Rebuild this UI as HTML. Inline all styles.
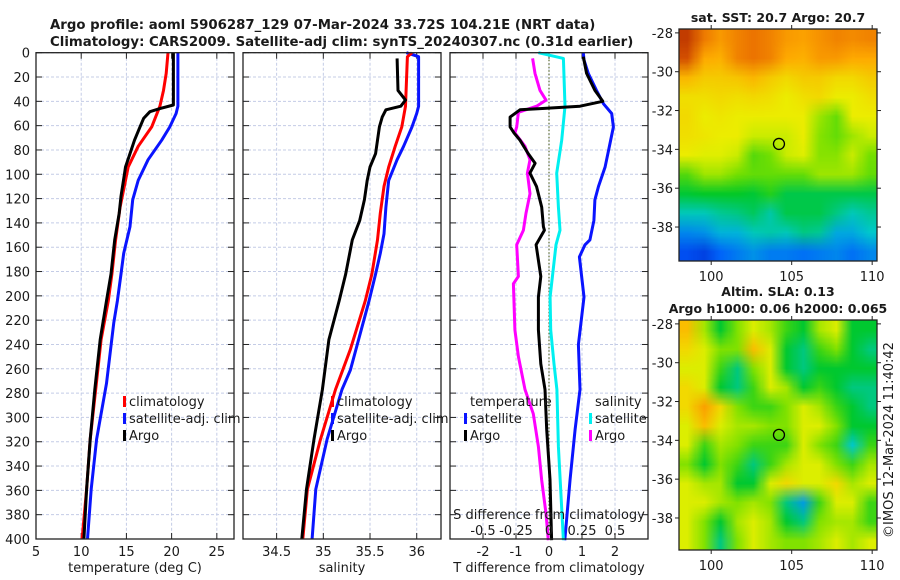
<!DOCTYPE html>
<html><head><meta charset="utf-8">
<style>
html,body{margin:0;padding:0;background:#fff;}
#wrap{position:relative;width:900px;height:580px;overflow:hidden;font-family:"DejaVu Sans","Liberation Sans",sans-serif;}
canvas{position:absolute;}
svg{position:absolute;left:0;top:0;}
</style></head>
<body>
<div id="wrap">
<canvas id="sstc" width="198" height="232" style="left:679px;top:29px"></canvas>
<canvas id="slac" width="198" height="230" style="left:679px;top:320px"></canvas>
<svg id="fig" width="900" height="580" xmlns="http://www.w3.org/2000/svg"></svg>
</div>
<script>
// ---------- data ----------
const tArgoD=[0,43,46,48.5,54,61,72,83,94,99,118,132,154,182,204,236,277,318,359,400];
const tArgoV=[20.2,20.2,18.7,17.6,16.9,16.5,15.9,15.4,14.9,14.8,14.4,14.2,13.7,13.3,12.8,12.1,11.5,11.0,10.6,10.3];
const tClimD=[0,17,31,44,61,77,94,105,127,154,182,204,236,277,318,359,400];
const tClimV=[19.6,19.4,19.1,18.7,17.8,16.3,15.2,14.9,14.3,13.8,13.4,13.0,12.2,11.6,11.0,10.6,10.1];
const tSatD=[0,44,50,61,72,88,105,121,143,165,182,204,222,272,318,359,400];
const tSatV=[20.7,20.7,20.5,19.8,18.9,17.4,16.3,15.7,15.4,14.7,14.4,14.0,13.6,12.8,11.7,11.1,10.7];
const sArgoD=[4.7,31,39,44,47,53,61,72,83,94,105,121,138,154,182,204,236,277,318,359,400];
const sArgoV=[35.79,35.8,35.88,35.83,35.67,35.63,35.6,35.58,35.56,35.5,35.47,35.44,35.39,35.31,35.24,35.17,35.06,34.99,34.9,34.82,34.77];
const sClimD=[0,3.3,44,61,77,94,110,132,154,182,204,244,277,318,359,400];
const sClimV=[35.95,35.9,35.88,35.84,35.77,35.7,35.65,35.61,35.58,35.52,35.45,35.29,35.13,34.97,34.83,34.78];
const sSatD=[0,3.3,44,50,61,77,88,105,127,149,165,182,204,261,277,318,359,400];
const sSatV=[35.89,36.02,36.02,36.0,35.95,35.86,35.79,35.7,35.67,35.65,35.61,35.56,35.49,35.29,35.2,35.04,34.92,34.88];
const dTSatD=[0,6,17,31,42,50,61,77,94,110,121,138,154,158,168,201,240,277,310,351,401];
const dTSatV=[1.04,1.06,1.19,1.44,1.65,1.9,1.95,1.83,1.7,1.5,1.39,1.36,1.24,1.09,0.92,1.06,0.89,0.94,0.79,0.64,0.48];
const dTArgoD=[3.3,17,31,40,44,46,47,53,61,66,72,83,91,99,110,127,143,146,158,184,201,228,256,277,310,351,401];
const dTArgoV=[1.04,1.14,1.39,1.63,0.94,-0.27,-0.88,-1.18,-1.18,-1.06,-0.88,-0.63,-0.42,-0.58,-0.38,-0.22,-0.17,-0.14,-0.39,-0.25,-0.32,-0.32,-0.25,-0.12,-0.07,0.03,0.08];
const dSArgoD=[4.7,17,31,39,44,49,61,66,77,88,99,116,132,146,158,184,190,228,250,277,297,324,351,379,401];
const dSArgoV=[-0.124,-0.106,-0.068,-0.023,-0.094,-0.232,-0.245,-0.258,-0.182,-0.144,-0.164,-0.144,-0.174,-0.194,-0.245,-0.232,-0.27,-0.258,-0.232,-0.182,-0.119,-0.08,-0.056,-0.023,-0.005];
const dSSatD=[0,4.7,44,72,99,127,146,158,201,228,256,277,324,401];
const dSSatV=[-0.08,0.109,0.121,0.096,0.058,0.071,0.083,0.053,0.008,0.013,0.038,0.06,0.071,0.109];
const depthTicks=[0,20,40,60,80,100,120,140,160,180,200,220,240,260,280,300,320,340,360,380,400];
const tTicks=[5,10,15,20,25];
const sTicks=[34.5,35,35.5,36];
const sTickLabels=["34.5","35","35.5","36"];
const dTTicks=[-2,-1,0,1,2];
const dSTicks=[-0.5,-0.25,0,0.25,0.5];
const dSTickLabels=["-0.5","-0.25","0","0.25","0.5"];
const latTicks=[-28,-30,-32,-34,-36,-38];
const lonTicks=[100,105,110];
const argoLon=104.21, argoLat=-33.72;
// SST grid rows north->south (-28..-39), cols 98..110
const sstGrid=[
[23,22.3,21.9,22.2,22.4,22.2,21.9,21.8,22,22.2,22.1,22.2],
[22.8,21.7,21.6,22.2,22.4,22.2,21.7,21.6,21.9,21.9,21.7,21.7],
[21.5,21.2,21.2,21.3,21.5,21.2,21.0,21.2,21.2,21.0,21.0,21.2],
[20.9,20.9,21.0,20.9,21.0,20.9,20.7,20.9,21.0,20.7,20.7,20.9],
[21.0,20.7,20.8,20.7,20.7,20.7,20.7,20.7,20.3,20.0,20.7,20.7],
[20.9,20.8,20.7,20.7,20.5,20.5,20.5,20.7,20.2,20.0,20.3,20.5],
[20.7,20.6,20.6,20.5,19.9,20.1,20.5,20.6,20.2,20.2,20.5,20.1],
[19.9,20.3,20.3,20.1,20.0,20.0,20.0,20.0,20.3,20.3,20.3,20.0],
[19.3,19.4,19.4,19.4,19.3,19.6,19.2,19.2,19.2,19.2,19.2,19.2],
[18.6,18.6,18.8,18.9,19.1,18.7,19.2,19.2,19.2,18.9,18.6,18.8],
[17.9,18.0,18.3,18.3,18.6,18.7,18.6,18.9,18.8,18.2,18.2,18.5],
[17.3,17.1,17.6,17.8,18.0,17.8,17.8,17.7,17.8,17.9,17.7,17.9]];
const slaGrid=[
[0.25,0.12,0.0,0.1,0.15,0.12,0.05,0.0,0.12,0.15,0.0,0.0],
[0.2,0.15,0.1,0.1,0.25,0.15,0.0,-0.05,0.05,0.1,0.0,-0.05],
[0.15,0.15,0.05,-0.05,0.1,0.15,0.0,-0.05,0.0,0.0,0.0,0.0],
[0.2,0.15,0.0,-0.05,0.05,0.15,0.12,0.0,0.05,0.0,-0.05,-0.05],
[0.2,0.3,0.2,0.1,0.05,0.05,0.1,0.15,0.12,0.05,0.0,-0.05],
[0.15,0.25,0.15,0.12,0.12,0.1,0.1,0.15,0.15,0.1,0.0,0.0],
[0.15,0.05,0.12,0.1,0.05,0.05,0.05,0.15,0.1,0.05,-0.1,0.05],
[0.1,0.0,0.1,0.05,-0.05,0.05,0.12,0.15,0.15,0.1,0.05,0.12],
[0.15,0.12,0.12,0.0,0.0,0.15,0.2,0.15,0.15,0.2,0.12,0.15],
[0.15,0.15,0.12,0.1,0.12,0.1,-0.05,-0.15,0.05,0.15,0.15,0.05],
[0.15,0.1,0.0,0.12,0.15,0.12,0.0,-0.05,0.1,0.12,0.12,0.05],
[0.15,0.1,-0.05,0.1,0.15,0.12,0.1,0.1,0.12,0.15,0.12,0.15]];

// ---------- helpers ----------
const NS="http://www.w3.org/2000/svg";
const svg=document.getElementById('fig');
function mk(tag,attrs,parent){const e=document.createElementNS(NS,tag);for(const k in attrs)e.setAttribute(k,attrs[k]);(parent||svg).appendChild(e);return e;}
function txt(x,y,s,size,anchor,weight,parent){const e=mk('text',{x:x,y:y,'font-size':size,'text-anchor':anchor||'middle','font-weight':weight||'normal',fill:'#1a1a1a','font-family':'DejaVu Sans, Liberation Sans, sans-serif'},parent);e.textContent=s;return e;}
const Y0=52.7,Y1=539;
function yD(d){return Y0+(Y1-Y0)*d/400;}
function lin(d0,d1,r0,r1){return v=>r0+(v-d0)*(r1-r0)/(d1-d0);}
const xT=lin(5,26.9,36,234), xS=lin(34.14,36.26,243,441), xDT=lin(-3,3,450,648), xDS=v=>xDT(v*4);

function panel(name,x0,x1,vticks,xs,labels,dataLines,xlabel){
  const g=mk('g',{});
  
  
  depthTicks.forEach(d=>{
    const l=mk('line',{x1:x0,x2:x1,y1:yD(d),y2:yD(d),stroke:'#c4cce6','stroke-width':1,'stroke-dasharray':'3,2'},g);
    
    
    mk('line',{x1:x0,x2:x0+6,y1:yD(d),y2:yD(d),stroke:'#222','stroke-width':1},g);
    mk('line',{x1:x1-6,x2:x1,y1:yD(d),y2:yD(d),stroke:'#222','stroke-width':1},g);
  });
  vticks.forEach((v,i)=>{
    const x=xs(v);
    if(x>x0+1&&x<x1-1){
      const l=mk('line',{x1:x,x2:x,y1:Y0,y2:Y1,stroke:'#c4cce6','stroke-width':1,'stroke-dasharray':'3,2'},g);
      
      
    }
    mk('line',{x1:x,x2:x,y1:Y1,y2:Y1-6,stroke:'#222','stroke-width':1},g);
    mk('line',{x1:x,x2:x,y1:Y0,y2:Y0+6,stroke:'#222','stroke-width':1},g);
    if(labels){const t=txt(x,556,labels[i],13,'middle','normal',g);
      
      }
  });
  dataLines(g);
  const r=mk('rect',{x:x0,y:Y0,width:x1-x0,height:Y1-Y0,fill:'none',stroke:'#222','stroke-width':1.3},g);
  
  
  const xl=txt((x0+x1)/2,572,xlabel,13,'middle','normal',g);
  
  
}
function line(g,ds,vs,xs,color,name){
  const pts=ds.map((d,i)=>xs(vs[i]).toFixed(1)+','+yD(d).toFixed(1)).join(' ');
  const p=mk('polyline',{points:pts,fill:'none',stroke:color,'stroke-width':3,'stroke-linejoin':'round'},g);
  
  
}
function legend(g,x,y,entries){
  entries.forEach((e,i)=>{
    const yy=y+i*17;
    if(e[1]){mk('rect',{x:x,y:yy-5,width:3,height:11,fill:e[1]},g);}
    const t=txt(x+6,yy+5,e[0],13,'start','normal',g);
    
    
  });
}

depthTicks.forEach(d=>{const t=txt(30,yD(d)+5,String(d),13,'end');
  
  });

let t1=txt(50,29,'Argo profile: aoml 5906287_129 07-Mar-2024 33.72S 104.21E (NRT data)',13.3,'start','bold');


let t2=txt(50,46,'Climatology: CARS2009. Satellite-adj clim: synTS_20240307.nc (0.31d earlier)',13.3,'start','bold');



panel('temperature-panel',36,234,tTicks,xT,tTicks.map(String),g=>{
  line(g,tSatD,tSatV,xT,'#0a14ff','temp-satellite-line');
  line(g,tClimD,tClimV,xT,'#ff0000','temp-climatology-line');
  line(g,tArgoD,tArgoV,xT,'#000','temp-argo-line');
  legend(g,123,401,[['climatology','#ff0000'],['satellite-adj. clim','#0a14ff'],['Argo','#000']]);
},'temperature (deg C)');
panel('salinity-panel',243,441,sTicks,xS,sTickLabels,g=>{
  line(g,sSatD,sSatV,xS,'#0a14ff','sal-satellite-line');
  line(g,sClimD,sClimV,xS,'#ff0000','sal-climatology-line');
  line(g,sArgoD,sArgoV,xS,'#000','sal-argo-line');
  legend(g,331,401,[['climatology','#ff0000'],['satellite-adj. clim','#0a14ff'],['Argo','#000']]);
},'salinity');
panel('difference-panel',450,648,dTTicks,xDT,dTTicks.map(String),g=>{
  const z=mk('line',{x1:xDT(0),x2:xDT(0),y1:Y0,y2:Y1,stroke:'#5a6a30','stroke-width':1.2,'stroke-dasharray':'1.5,2'},g);
  
  
  line(g,dTSatD,dTSatV,xDT,'#0a14ff','tdiff-satellite-line');
  line(g,dSSatD,dSSatV,xDS,'#00f0f0','sdiff-satellite-line');
  line(g,dSArgoD,dSArgoV,xDS,'#ff00ff','sdiff-argo-line');
  line(g,dTArgoD,dTArgoV,xDT,'#000','tdiff-argo-line');
  legend(g,464,401,[['temperature',null],['satellite','#0a14ff'],['Argo','#000']]);
  legend(g,589,401,[['salinity',null],['satellite','#00f0f0'],['Argo','#ff00ff']]);
  const st=txt(549,519,'S difference from climatology',13,'middle','normal',g);
  
  
  dSTicks.forEach((v,i)=>{const t=txt(xDS(v),535,dSTickLabels[i],13,'middle','normal',g);
    
    });
},'T difference from climatology');

// ---------- maps ----------
const stops=[[0,[0,0,150]],[0.2,[0,90,255]],[0.33,[0,200,210]],[0.45,[0,200,40]],[0.55,[120,225,0]],[0.62,[235,240,0]],[0.76,[255,170,0]],[0.88,[230,100,0]],[1,[150,10,0]]];
function cmap(t){t=Math.max(0,Math.min(1,t));for(let i=1;i<stops.length;i++){if(t<=stops[i][0]){const a=stops[i-1],b=stops[i];const f=(t-a[0])/(b[0]-a[0]);return a[1].map((c,k)=>Math.round(c+(b[1][k]-c)*f));}}return stops[stops.length-1][1];}
function drawMap(id,grid,vmin,vmax,smooth){
  const c=document.getElementById(id),ctx=c.getContext('2d');
  const rows=grid.length,cols=grid[0].length;
  const s=document.createElement('canvas');s.width=cols;s.height=rows;
  const sc=s.getContext('2d');const im=sc.createImageData(cols,rows);
  grid.forEach((row,r)=>row.forEach((v,k)=>{const col=cmap((v-vmin)/(vmax-vmin));const o=(r*cols+k)*4;im.data[o]=col[0];im.data[o+1]=col[1];im.data[o+2]=col[2];im.data[o+3]=255;}));
  sc.putImageData(im,0,0);
  ctx.imageSmoothingEnabled=smooth;
  ctx.drawImage(s,0,0,c.width,c.height);
}
drawMap('sstc',sstGrid,16,23.5,true);
drawMap('slac',slaGrid,-0.4,0.5,true);

function mapAxes(name,top,bot,latTop,latBot,title1,title2,y1,y2){
  const g=mk('g',{});
  
  
  const xm=lin(98.0,110.3,679,877), ym=lin(latTop,latBot,top,bot);
  mk('rect',{x:679,y:top,width:198,height:bot-top,fill:'none',stroke:'#222','stroke-width':1.3},g);
  latTicks.forEach(l=>{const y=ym(l);mk('line',{x1:675,x2:679,y1:y,y2:y,stroke:'#222'},g);mk('line',{x1:877,x2:881,y1:y,y2:y,stroke:'#222'},g);
    const t=txt(673,y+5,String(l),13,'end','normal',g);
    
    });
  lonTicks.forEach(l=>{const x=xm(l);mk('line',{x1:x,x2:x,y1:bot,y2:bot+4,stroke:'#222'},g);mk('line',{x1:x,x2:x,y1:top-4,y2:top,stroke:'#222'},g);
    const t=txt(x,bot+20,String(l),13,'middle','normal',g);
    
    });
  const c=mk('circle',{cx:xm(argoLon),cy:ym(argoLat),r:5.5,fill:'none',stroke:'#000','stroke-width':1.3},g);
  
  
  const a=txt(778,y1,title1,12.5,'middle','bold',g);
  
  
  if(title2){const b=txt(778,y2,title2,12.5,'middle','bold',g);
    
    }
}
mapAxes('sst-map-axes',29,261,-27.8,-39.75,'sat. SST: 20.7 Argo: 20.7',null,22,0);
mapAxes('sla-map-axes',320,550,-27.8,-39.65,'Altim. SLA: 0.13','Argo h1000: 0.06 h2000: 0.065',296,313);
const cr=txt(0,0,'©IMOS 12-Mar-2024 11:40:42',13,'middle');
cr.setAttribute('transform','translate(893,440) rotate(-90)');


</script>
</body></html>
